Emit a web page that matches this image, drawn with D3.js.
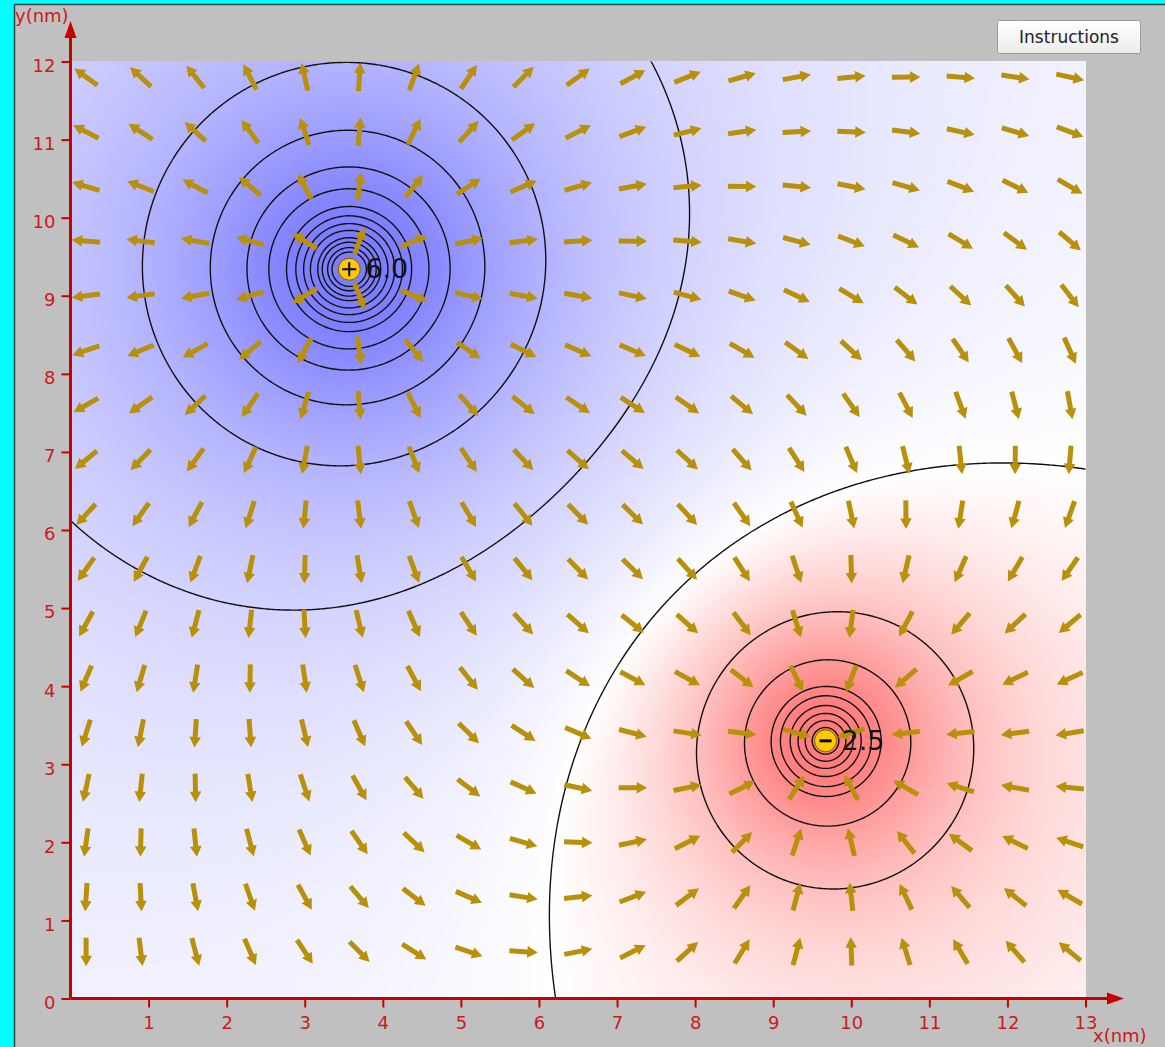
<!DOCTYPE html>
<html>
<head>
<meta charset="utf-8">
<script src="https://cdn.jsdelivr.net/npm/d3@7"></script>
<style>
    body { margin: 0; background: #00ffff; overflow: hidden; }
    svg { display: block; font-family: "DejaVu Sans", sans-serif; }
</style>
</head>
<body>
<svg id="chart" width="1165" height="1047"></svg>
<script>
// Point charges (nm, e)
const chargeX = [3.57, 9.67];
const chargeY = [9.34, 3.30];
const chargeQ = [6.0, -2.5];
const chargeSign = ['+', '-'];
const chargeLabels = ['6.0', '2.5'];

// Equipotential levels
const contourLevels = [-14, -8.9, -6.4, -4.8, -3.6, -2.85, -1.65, -0.72, 0.095,
    1.0, 2.03, 3.12, 4.32, 5.56, 7.2, 8.5, 10, 11.8, 14.6, 17.1, 21.4, 27];

// Field arrow grid (nm)
const arrowX = [0.2, 0.9, 1.6, 2.3, 3.0, 3.7, 4.4, 5.1, 5.8, 6.5, 7.2, 7.9, 8.6, 9.3, 10.0, 10.7, 11.4, 12.1, 12.8];
const arrowY = [11.8, 11.1, 10.4, 9.7, 9.0, 8.3, 7.6, 6.9, 6.2, 5.5, 4.8, 4.1, 3.4, 2.7, 2.0, 1.3, 0.6];

// Axis ticks
const xTicks = [1, 2, 3, 4, 5, 6, 7, 8, 9, 10, 11, 12, 13];
const yTicks = [0, 1, 2, 3, 4, 5, 6, 7, 8, 9, 10, 11, 12];

const red = '#c80000';
const arrowColor = '#b8900a';

const svg = d3.select('#chart');

const x = d3.scaleLinear().domain([0, 13]).range([70.5, 1085.5]);
const y = d3.scaleLinear().domain([0, 12]).range([998.5, 61.5]);

// potential (k = 1) and field at a point in nm
function potential(px, py) {
    let v = 0;
    for (let i = 0; i < chargeQ.length; i++) {
        const r = Math.max(Math.hypot(px - chargeX[i], py - chargeY[i]), 0.01);
        v += chargeQ[i] / r;
    }
    return v;
}
function field(px, py) {
    let ex = 0, ey = 0;
    for (let i = 0; i < chargeQ.length; i++) {
        const dx = px - chargeX[i], dy = py - chargeY[i];
        const r = Math.max(Math.hypot(dx, dy), 0.01);
        ex += chargeQ[i] * dx / (r * r * r);
        ey += chargeQ[i] * dy / (r * r * r);
    }
    return [ex, ey];
}

// gray panel + frame edge
svg.append('rect').attr('x', 14).attr('y', 4).attr('width', 1151).attr('height', 1043).attr('fill', '#c0c0c0');
svg.append('path').attr('d', 'M14.5,1047V4.5H1165').attr('fill', 'none').attr('stroke', '#2e4646').attr('stroke-width', 1.5);

// potential colour map: white at the zero-ish level, soft fade to blue / red
const white = 0.095;
const depth = 130;
function shade(v) {
    const t = v - white;
    const s = t > 0 ? 1 - Math.exp(-t / 2.2) : 1 - Math.exp(t / 1.2);
    return 255 - depth * s;
}

const x0 = Math.floor(x(0)), x1 = Math.ceil(x(13));
const y0 = Math.floor(y(12)), y1 = Math.ceil(y(0));
const W = x1 - x0, H = y1 - y0;
const canvas = document.createElement('canvas');
canvas.width = W; canvas.height = H;
const ctx = canvas.getContext('2d');
const img = ctx.createImageData(W, H);
for (let j = 0; j < H; j++) {
    const yn = y.invert(y0 + j + 0.5);
    for (let i = 0; i < W; i++) {
        const v = potential(x.invert(x0 + i + 0.5), yn);
        const c = shade(v);
        const k = (j * W + i) * 4;
        img.data[k] = v < white ? 255 : c;
        img.data[k + 1] = c;
        img.data[k + 2] = v > white ? 255 : c;
        img.data[k + 3] = 255;
    }
}
ctx.putImageData(img, 0, 0);

svg.append('image')
    .attr('x', x0).attr('y', y0)
    .attr('width', W).attr('height', H)
    .attr('href', canvas.toDataURL());

svg.append('clipPath').attr('id', 'plotClip')
    .append('rect').attr('x', x(0)).attr('y', y(12))
    .attr('width', x(13) - x(0)).attr('height', y(0) - y(12));

// equipotential contours on a padded grid
const step = 2;
const gx0 = x(0) - 10, gy0 = y(12) - 10;
const n = Math.ceil((x(13) - x(0) + 20) / step);
const m = Math.ceil((y(0) - y(12) + 20) / step);
const values = new Float64Array(n * m);
for (let j = 0; j < m; j++) {
    const yn = y.invert(gy0 + (j + 0.5) * step);
    for (let i = 0; i < n; i++) {
        values[j * n + i] = Math.max(-500, Math.min(500, potential(x.invert(gx0 + (i + 0.5) * step), yn)));
    }
}
const contours = d3.contours().size([n, m]).thresholds(contourLevels)(values);
const gridPath = d3.geoPath(d3.geoTransform({
    point: function(px, py) { this.stream.point(gx0 + px * step, gy0 + py * step); }
}));

svg.append('g')
    .attr('clip-path', 'url(#plotClip)')
    .selectAll('path')
    .data(contours)
    .join('path')
    .attr('d', gridPath)
    .attr('fill', 'none')
    .attr('stroke', '#111')
    .attr('stroke-width', 1.4);

// field arrows (fixed length, direction of E)
const arrowShape = 'M-14,-2.5L4,-2.5L4,-5.8L14.5,0L4,5.8L4,2.5L-14,2.5Z';
const arrowPoints = [];
arrowY.forEach(ay => arrowX.forEach(ax => arrowPoints.push([ax, ay])));

svg.append('g')
    .selectAll('path')
    .data(arrowPoints)
    .join('path')
    .attr('d', arrowShape)
    .attr('fill', arrowColor)
    .attr('transform', d => {
        const [ex, ey] = field(d[0], d[1]);
        const ang = Math.atan2(-ey, ex) * 180 / Math.PI;
        return `translate(${x(d[0])},${y(d[1])}) rotate(${ang})`;
    });

// charges
const charges = chargeQ.map((q, i) => ({ q, cx: x(chargeX[i]), cy: y(chargeY[i]), sign: chargeSign[i], label: chargeLabels[i] }));

svg.append('g')
    .selectAll('text')
    .data(charges)
    .join('text')
    .attr('x', d => d.cx + 16)
    .attr('y', d => d.cy + 9)
    .attr('font-size', 27)
    .attr('fill', '#111')
    .text(d => d.label);

const cg = svg.append('g')
    .selectAll('g')
    .data(charges)
    .join('g')
    .attr('transform', d => `translate(${d.cx},${d.cy})`);

cg.append('circle')
    .attr('r', 11)
    .attr('fill', '#ffc800')
    .attr('stroke', '#7a6000')
    .attr('stroke-width', 1);

cg.append('path')
    .attr('d', d => d.sign === '+' ? 'M-7,0H7M0,-7V7' : 'M-6,0H6')
    .attr('stroke', '#000')
    .attr('stroke-width', d => d.sign === '+' ? 2 : 3);

// axes
const xAxis = svg.append('g')
    .attr('transform', `translate(0,${y(0)})`)
    .call(d3.axisBottom(x).tickValues(xTicks).tickSize(9).tickPadding(9).tickFormat(d3.format('d')));
const yAxis = svg.append('g')
    .attr('transform', `translate(${x(0)},0)`)
    .call(d3.axisLeft(y).tickValues(yTicks).tickSize(9).tickPadding(6).tickFormat(d3.format('d')));

[xAxis, yAxis].forEach(a => {
    a.select('.domain').remove();
    a.selectAll('.tick line').attr('stroke', red).attr('stroke-width', 2);
    a.selectAll('.tick text')
        .attr('fill', '#cc1a1a')
        .attr('font-size', 18)
        .attr('font-family', '"DejaVu Sans", sans-serif');
});
yAxis.selectAll('.tick text').attr('dy', '0.55em');

svg.append('line')
    .attr('x1', x(0)).attr('x2', 1108)
    .attr('y1', y(0)).attr('y2', y(0))
    .attr('stroke', red).attr('stroke-width', 3);
svg.append('path')
    .attr('d', `M1107,${y(0) - 6}L1124,${y(0)}L1107,${y(0) + 6}Z`)
    .attr('fill', red);
svg.append('line')
    .attr('x1', x(0)).attr('x2', x(0))
    .attr('y1', y(0)).attr('y2', 37)
    .attr('stroke', red).attr('stroke-width', 3);
svg.append('path')
    .attr('d', `M${x(0) - 6},38L${x(0)},21L${x(0) + 6},38Z`)
    .attr('fill', red);

svg.append('text')
    .attr('x', 15).attr('y', 22)
    .attr('font-size', 18)
    .attr('fill', '#cc1a1a')
    .text('y(nm)');
svg.append('text')
    .attr('x', 1093).attr('y', 1042)
    .attr('font-size', 18)
    .attr('fill', '#cc1a1a')
    .text('x(nm)');

// Instructions button
const grad = svg.append('defs').append('linearGradient')
    .attr('id', 'btnGrad').attr('x1', 0).attr('y1', 0).attr('x2', 0).attr('y2', 1);
grad.append('stop').attr('offset', '0%').attr('stop-color', '#ffffff');
grad.append('stop').attr('offset', '100%').attr('stop-color', '#ececec');

svg.append('rect')
    .attr('x', 997.5).attr('y', 20.5)
    .attr('width', 143).attr('height', 33)
    .attr('rx', 2)
    .attr('fill', 'url(#btnGrad)')
    .attr('stroke', '#9a9a9a');
svg.append('text')
    .attr('x', 1069).attr('y', 43)
    .attr('text-anchor', 'middle')
    .attr('font-size', 17)
    .attr('fill', '#222')
    .text('Instructions');
</script>
</body>
</html>
